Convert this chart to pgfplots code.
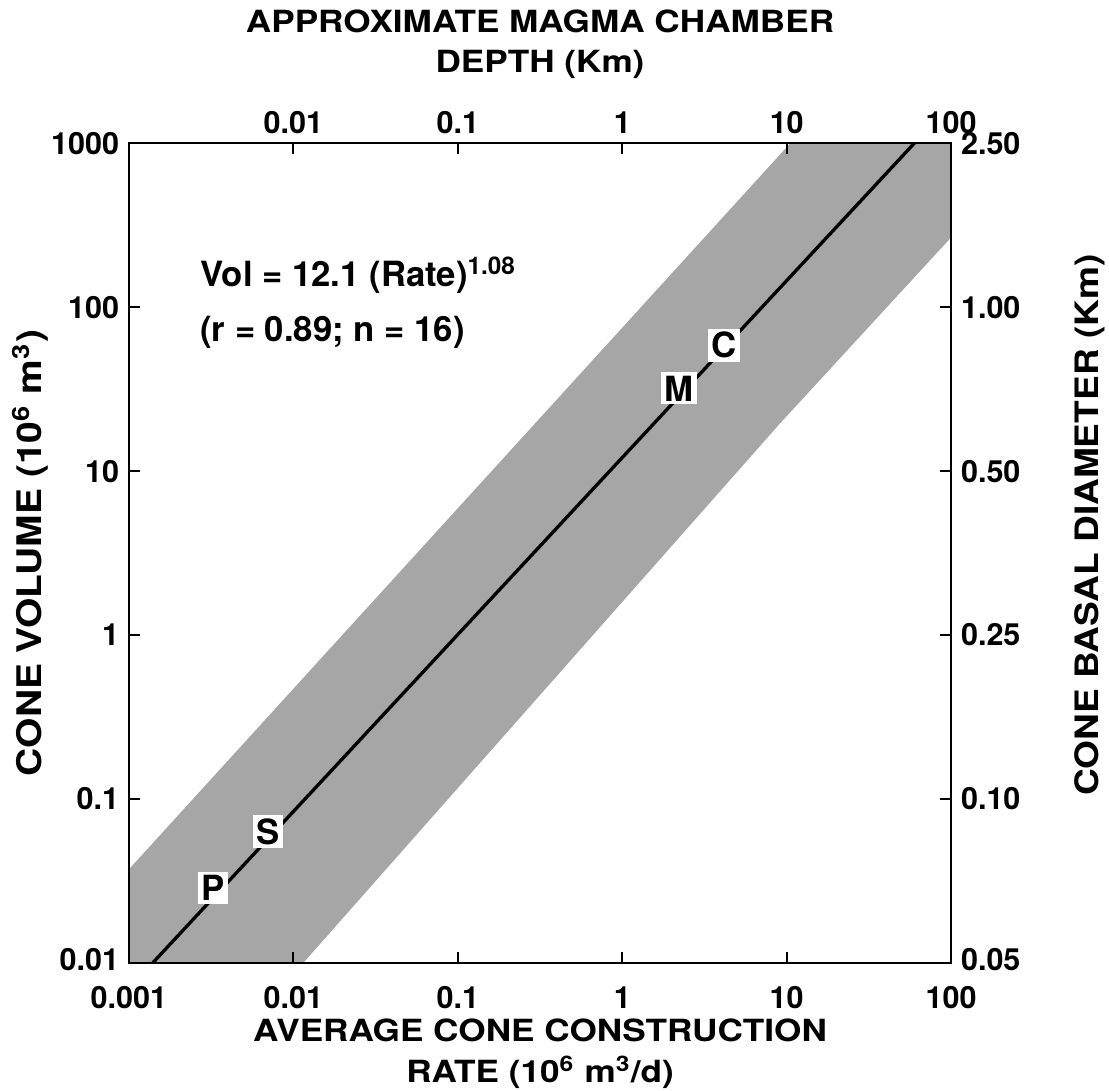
\documentclass[border=0pt]{standalone}
\usepackage{fontspec}
\setmainfont{TeX Gyre Heros}
\newfontfamily\labfam[FakeStretch=1.15]{TeX Gyre Heros}
\usepackage{pgfplots}
\pgfplotsset{compat=1.18}
\usetikzlibrary{calc}

\newcommand{\tickfont}{\fontsize{11}{13}\selectfont\bfseries}
\newcommand{\xlabfont}{\labfam\fontsize{11}{14.5}\selectfont\bfseries}
\newcommand{\notefont}{\fontsize{12.5}{14}\selectfont\bfseries}

\begin{document}
\begin{tikzpicture}
% main axis: rate vs volume
\begin{axis}[
  scale only axis, width=296pt, height=295pt,
  xmode=log, ymode=log,
  xmin=0.001, xmax=100, ymin=0.01, ymax=1000,
  xtick={0.001,0.01,0.1,1,10,100},
  xticklabels={0.001,0.01,0.1,1,10,100},
  ytick={0.01,0.1,1,10,100,1000},
  yticklabels={\raisebox{2.5pt}{0.01},0.1,1,10,100,1000},
  xminorticks=false, yminorticks=false,
  tick align=inside, major tick length=4pt,
  axis line style={line width=0.8pt},
  tick style={line width=0.8pt, black},
  ticklabel style={font=\tickfont},
  xticklabel style={yshift=-5pt},
  xlabel={AVERAGE CONE CONSTRUCTION\\RATE (10\textsuperscript{6} m\textsuperscript{3}/d)},
  xlabel style={align=center, font=\xlabfont, at={(axis description cs:0.5,-0.111)}, anchor=center},
  ylabel={CONE VOLUME (10\textsuperscript{6} m\textsuperscript{3})},
  ylabel style={font={\labfam\fontsize{12.2}{14}\selectfont\bfseries},
    at={(axis description cs:-0.12,0.5)}, anchor=center},
  axis on top,
  clip=true,
]
\coordinate (SW) at (rel axis cs:0,0);
% scatter band
\addplot[fill=black!35, draw=none] coordinates {
  (0.001,0.01) (0.001,0.0372) (10.5,1000) (100,1000) (100,267) (9.12,19.6) (0.0115,0.01)
} -- cycle;
% regression line
\addplot[black, line width=1.2pt] coordinates {(0.001,0.00697) (100,1749)};
% cone labels on the line
\addplot[draw=none, mark=none, nodes near coords, point meta=explicit symbolic,
  every node near coord/.append style={anchor=center, fill=white, inner sep=1.2pt,
    font=\notefont}]
  coordinates {(0.00324,0.0286)[P] (0.0070,0.063)[S] (2.21,32)[M] (4.16,58.6)[C]};
\node[anchor=west, font=\notefont] at (axis cs:0.00237,157)
  {Vol = 12.1 (Rate)\textsuperscript{1.08}};
\node[anchor=west, font=\notefont] at (axis cs:0.00237,70.5)
  {(r = 0.89; n = 16)};
\end{axis}
% top and right scales
\begin{axis}[
  scale only axis, width=296pt, height=295pt,
  xmode=log, ymode=log,
  xmin=0.001, xmax=100, ymin=0.01, ymax=1000,
  axis x line*=top, axis y line*=right,
  axis line style={draw=none},
  xtick={0.01,0.1,1,10,100},
  xticklabels={0.01,0.1,1,10,100},
  ytick={0.01,0.1,1,10,100,1000},
  yticklabels={\raisebox{2.5pt}{0.05},0.10,0.25,0.50,1.00,2.50},
  xminorticks=false, yminorticks=false,
  major tick length=0pt,
  ticklabel style={font=\tickfont},
  xlabel={APPROXIMATE MAGMA CHAMBER\\DEPTH (Km)},
  xlabel style={align=center, font=\xlabfont, at={(axis description cs:0.5,1.121)}, anchor=center},
  ylabel={CONE BASAL DIAMETER (Km)},
  ylabel style={font={\labfam\fontsize{11.6}{14}\selectfont\bfseries},
    at={(axis description cs:1.169,0.534)}, anchor=center},
]
\end{axis}
\pgfresetboundingbox
\path ($(SW)+(-46.4pt,-46.1pt)$) rectangle ($(SW)+(352.8pt,346.6pt)$);
\end{tikzpicture}
\end{document}
